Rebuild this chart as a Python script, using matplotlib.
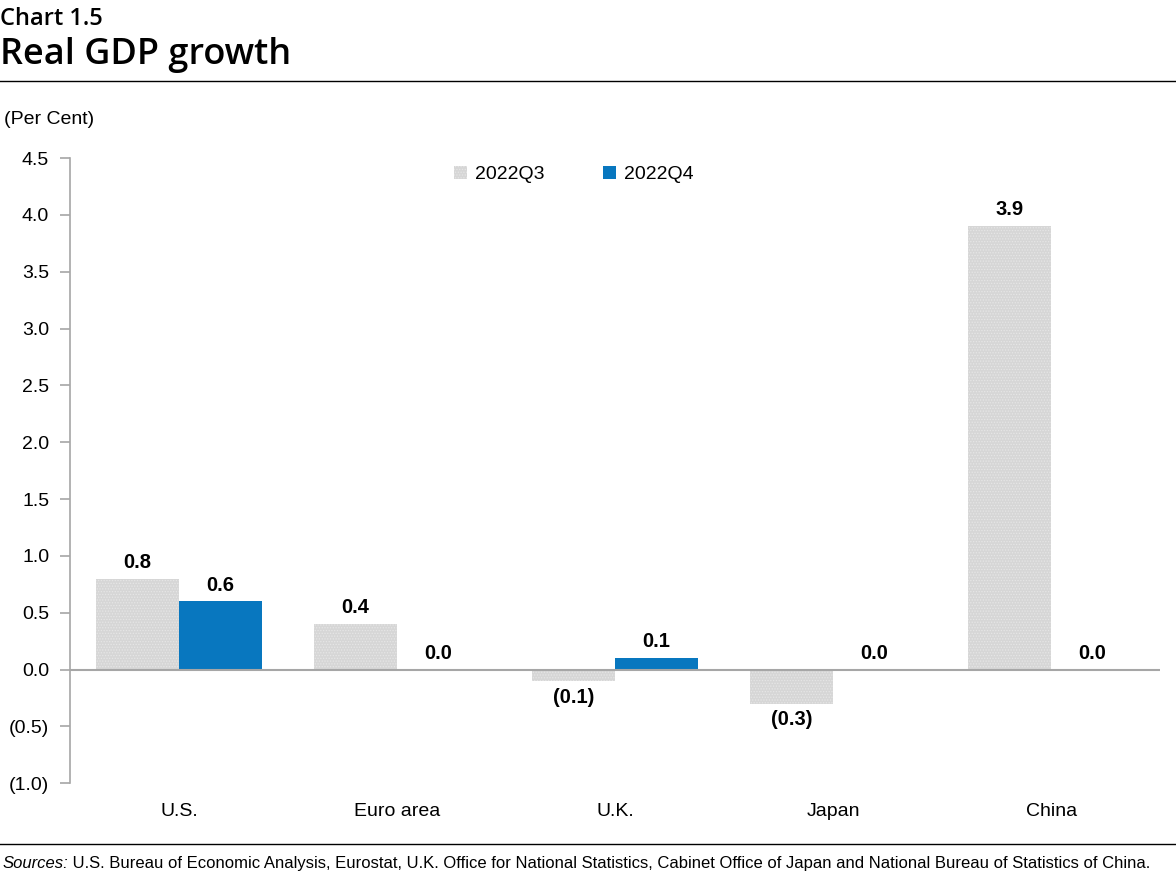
import matplotlib
matplotlib.use("Agg")
import matplotlib.pyplot as plt
import numpy as np
from matplotlib import font_manager

names = {f.name for f in font_manager.fontManager.ttflist}
narrow = "Liberation Sans Narrow" if "Liberation Sans Narrow" in names else "Liberation Sans"
head = "Open Sans"

# data
countries = ["U.S.", "Euro area", "U.K.", "Japan", "China"]
q3 = [0.8, 0.4, -0.1, -0.3, 3.9]
q4 = [0.6, 0.0, 0.1, 0.0, 0.0]
series_names = ["2022Q3", "2022Q4"]
yticks = [-1.0, -0.5, 0.0, 0.5, 1.0, 1.5, 2.0, 2.5, 3.0, 3.5, 4.0, 4.5]

def fmt(v):
    return "({:.1f})".format(abs(v)) if v < 0 else "{:.1f}".format(v)

plt.rcParams["font.family"] = narrow
plt.rcParams["hatch.linewidth"] = 0.6

fig = plt.figure(figsize=(11.76, 8.88), dpi=100)
ax = fig.add_axes([0.0595, 0.118, 0.927, 0.704])

x = np.arange(len(countries))
w = 0.38
b1 = ax.bar(x - w / 2, q3, w, color="#d6d6d6", hatch="......", edgecolor="#e6e6e6",
            linewidth=0, label=series_names[0])
b2 = ax.bar(x + w / 2, q4, w, color="#0877bf", linewidth=0, label=series_names[1])

for rects, vals in ((b1, q3), (b2, q4)):
    for r, v in zip(rects, vals):
        cx = r.get_x() + r.get_width() / 2
        if v < 0:
            ax.text(cx, v - 0.06, fmt(v), ha="center", va="top", fontsize=14.5, fontweight="bold")
        else:
            ax.text(cx, v + 0.06, fmt(v), ha="center", va="bottom", fontsize=14.5, fontweight="bold")

ax.axhline(0, color="#a6a6a6", linewidth=1.5, zorder=3)
ax.set_xlim(-0.5, len(countries) - 0.5)
ax.set_ylim(-1.0, 4.5)
ax.set_yticks(yticks)
ax.set_yticklabels([fmt(v) for v in yticks], fontsize=14)
ax.set_xticks(x)
ax.set_xticklabels(countries, fontsize=14)
ax.tick_params(axis="x", length=0, pad=14)
ax.tick_params(axis="y", length=7, color="#a6a6a6", width=1.2, pad=8)
for s in ["top", "right", "bottom"]:
    ax.spines[s].set_visible(False)
ax.spines["left"].set_color("#a6a6a6")
ax.spines["left"].set_linewidth(1.2)

ax.legend(loc="upper center", bbox_to_anchor=(0.462, 1.0), ncol=2, frameon=False,
          fontsize=14, handlelength=0.7, handleheight=0.7, columnspacing=3.0,
          handletextpad=0.4, borderaxespad=0.0)

# header and footer
fig.text(0.0, 0.992, "Chart 1.5", fontsize=17, family=head, va="top", fontweight="semibold")
fig.text(0.0, 0.958, "Real GDP growth", fontsize=26, family=head, va="top", fontweight="semibold")
fig.add_artist(plt.Line2D([0, 1], [0.909, 0.909], color="black", linewidth=1))
fig.text(0.003, 0.865, "(Per Cent)", fontsize=14, va="center")
fig.add_artist(plt.Line2D([0, 1], [0.049, 0.049], color="black", linewidth=1))
t1 = fig.text(0.002, 0.028, "Sources:", fontsize=12, style="italic", va="center")
ax.annotate(" U.S. Bureau of Economic Analysis, Eurostat, U.K. Office for National Statistics, "
            "Cabinet Office of Japan and National Bureau of Statistics of China.",
            xy=(1, 0.5), xycoords=t1, va="center", ha="left", fontsize=12,
            annotation_clip=False)

fig.savefig("out.png", dpi=100)
